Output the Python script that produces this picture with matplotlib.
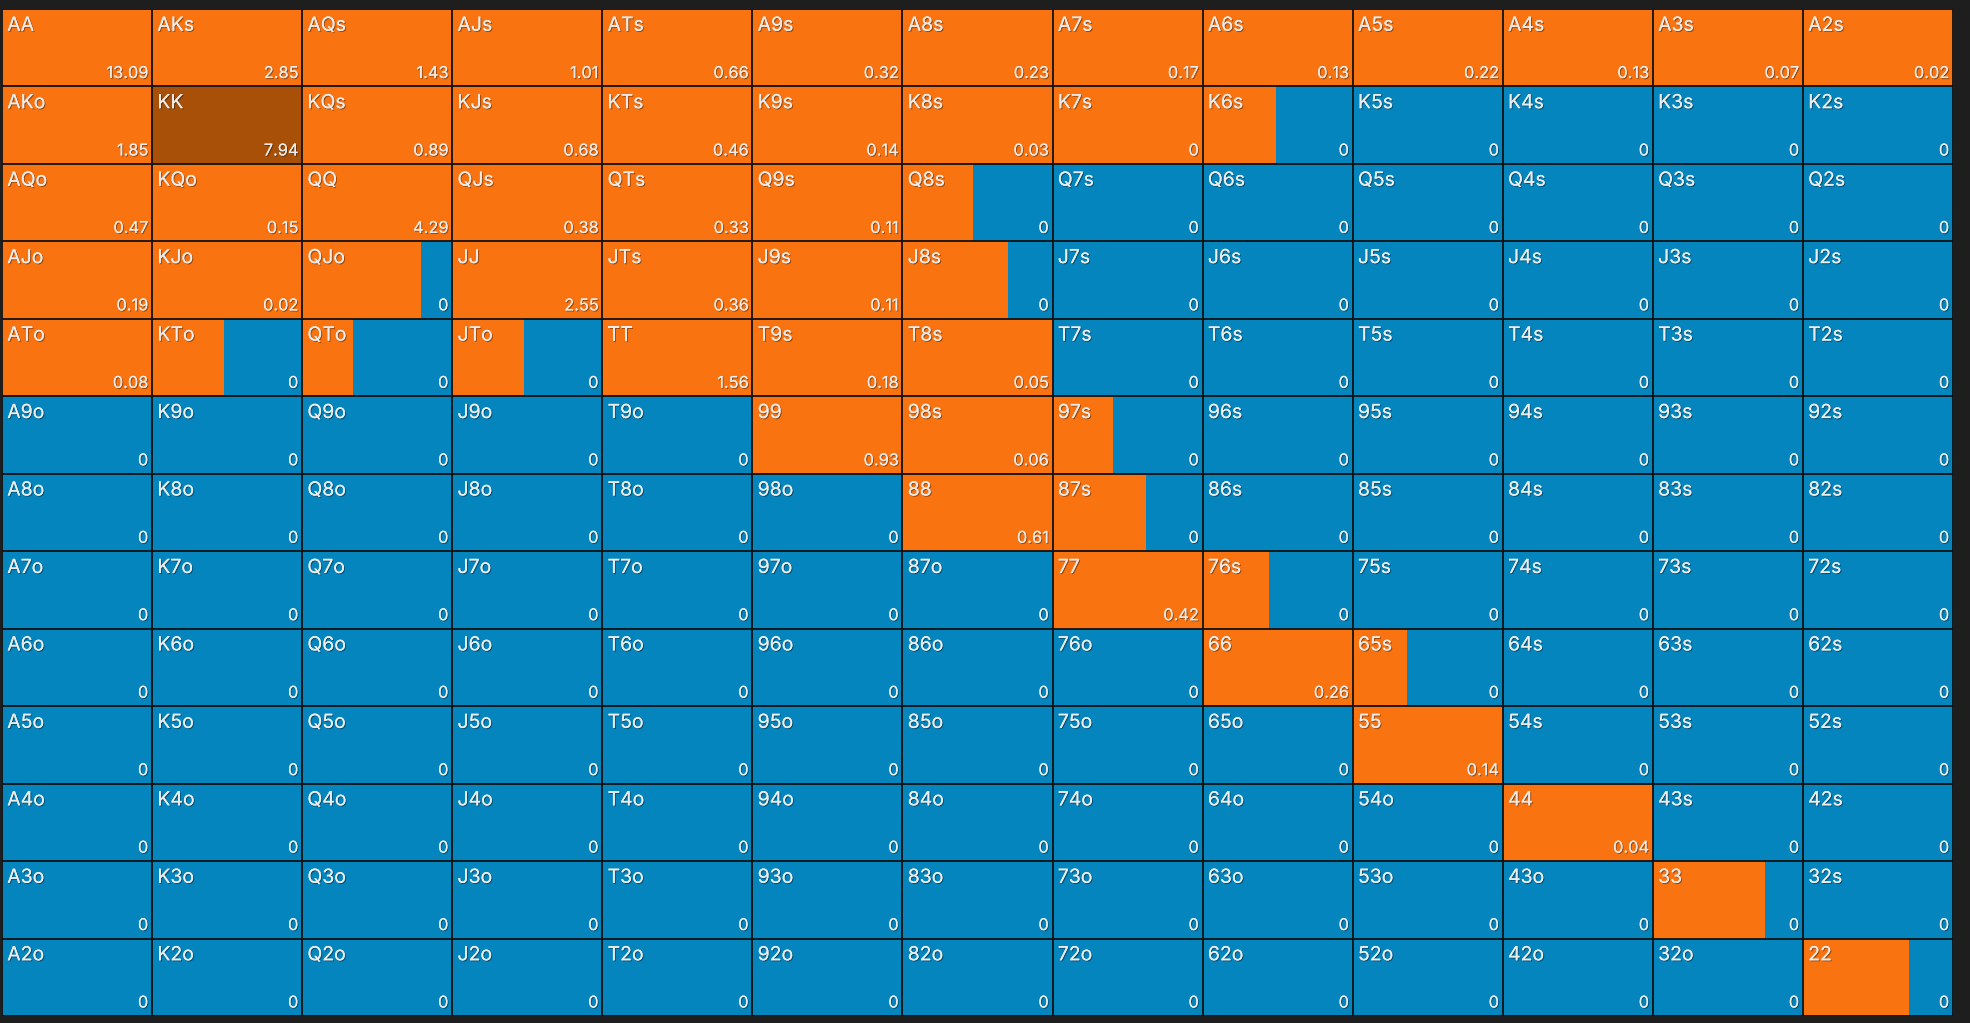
"""Preflop range grid: orange share per hand, with value in the corner."""
import matplotlib.pyplot as plt
import matplotlib.patheffects as pe
from matplotlib.patches import Rectangle

ranks = ["A", "K", "Q", "J", "T", "9", "8", "7", "6", "5", "4", "3", "2"]

# value printed bottom-right of each cell (row = first rank)
values = [
    [13.09, 2.85, 1.43, 1.01, 0.66, 0.32, 0.23, 0.17, 0.13, 0.22, 0.13, 0.07, 0.02],
    [1.85, 7.94, 0.89, 0.68, 0.46, 0.14, 0.03, 0, 0, 0, 0, 0, 0],
    [0.47, 0.15, 4.29, 0.38, 0.33, 0.11, 0, 0, 0, 0, 0, 0, 0],
    [0.19, 0.02, 0, 2.55, 0.36, 0.11, 0, 0, 0, 0, 0, 0, 0],
    [0.08, 0, 0, 0, 1.56, 0.18, 0.05, 0, 0, 0, 0, 0, 0],
    [0, 0, 0, 0, 0, 0.93, 0.06, 0, 0, 0, 0, 0, 0],
    [0, 0, 0, 0, 0, 0, 0.61, 0, 0, 0, 0, 0, 0],
    [0, 0, 0, 0, 0, 0, 0, 0.42, 0, 0, 0, 0, 0],
    [0, 0, 0, 0, 0, 0, 0, 0, 0.26, 0, 0, 0, 0],
    [0, 0, 0, 0, 0, 0, 0, 0, 0, 0.14, 0, 0, 0],
    [0, 0, 0, 0, 0, 0, 0, 0, 0, 0, 0.04, 0, 0],
    [0, 0, 0, 0, 0, 0, 0, 0, 0, 0, 0, 0, 0],
    [0, 0, 0, 0, 0, 0, 0, 0, 0, 0, 0, 0, 0],
]

# share of the cell that is orange (rest blue)
orange_share = [
    [1, 1, 1, 1, 1, 1, 1, 1, 1, 1, 1, 1, 1],
    [1, 1, 1, 1, 1, 1, 1, 1, 0.49, 0, 0, 0, 0],
    [1, 1, 1, 1, 1, 1, 0.47, 0, 0, 0, 0, 0, 0],
    [1, 1, 0.79, 1, 1, 1, 0.70, 0, 0, 0, 0, 0, 0],
    [1, 0.48, 0.34, 0.48, 1, 1, 1, 0, 0, 0, 0, 0, 0],
    [0, 0, 0, 0, 0, 1, 1, 0.40, 0, 0, 0, 0, 0],
    [0, 0, 0, 0, 0, 0, 1, 0.62, 0, 0, 0, 0, 0],
    [0, 0, 0, 0, 0, 0, 0, 1, 0.44, 0, 0, 0, 0],
    [0, 0, 0, 0, 0, 0, 0, 0, 1, 0.36, 0, 0, 0],
    [0, 0, 0, 0, 0, 0, 0, 0, 0, 1, 0, 0, 0],
    [0, 0, 0, 0, 0, 0, 0, 0, 0, 0, 1, 0, 0],
    [0, 0, 0, 0, 0, 0, 0, 0, 0, 0, 0, 0.75, 0],
    [0, 0, 0, 0, 0, 0, 0, 0, 0, 0, 0, 0, 0.71],
]

highlighted = [(1, 1)]  # KK

ORANGE = "#f97310"
DARK_ORANGE = "#a85008"
BLUE = "#0585be"
BG = "#1e1e1e"
TEXT = "#ececec"


def hand_label(r, c):
    if r == c:
        return ranks[r] * 2
    if c > r:
        return ranks[r] + ranks[c] + "s"
    return ranks[c] + ranks[r] + "o"


fig = plt.figure(figsize=(19.7, 10.23), dpi=100, facecolor=BG)
ax = fig.add_axes([2 / 1970, 7 / 1023, 1951 / 1970, 1007 / 1023])
ax.set_xlim(0, 13)
ax.set_ylim(13, 0)
ax.set_axis_off()

shadow = [pe.withSimplePatchShadow(offset=(0.8, -0.8), shadow_rgbFace="black", alpha=0.35),
          pe.Normal()]

for r in range(13):
    for c in range(13):
        share = orange_share[r][c]
        fc = DARK_ORANGE if (r, c) in highlighted else ORANGE
        ax.add_patch(Rectangle((c, r), 1, 1, facecolor=BLUE, edgecolor="none"))
        if share > 0:
            ax.add_patch(Rectangle((c, r), share, 1, facecolor=fc, edgecolor="none"))
        ax.text(c + 0.035, r + 0.1, hand_label(r, c), ha="left", va="top",
                fontsize=14, color=TEXT, family="Inter", path_effects=shadow)
        v = values[r][c]
        txt = "0" if v == 0 else f"{v:.2f}"
        ax.text(c + 0.975, r + 0.93, txt, ha="right", va="bottom",
                fontsize=11.8, color=TEXT, family="Inter", path_effects=shadow)

ax.vlines(range(14), 0, 13, colors="#111111", linewidth=1.3)
ax.hlines(range(14), 0, 13, colors="#111111", linewidth=1.3)

fig.savefig("out.png", dpi=100, facecolor=BG)
